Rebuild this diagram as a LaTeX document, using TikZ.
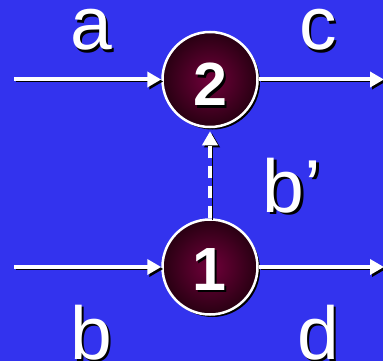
\documentclass[tikz,border=0pt]{standalone}
\usepackage{fontspec}
\setmainfont{Liberation Sans}
\usetikzlibrary{arrows.meta}
\definecolor{bgblue}{RGB}{51,51,238}
\definecolor{nodein}{RGB}{112,0,58}
\definecolor{nodeout}{RGB}{40,0,18}
\newcommand\shtxt[1]{\leavevmode\rlap{\kern2.5pt\raisebox{-2.5pt}{\color{black}#1}}#1}
\tikzset{
  statenode/.style={circle, minimum size=95pt, inner sep=0pt, draw=white, line width=2.5pt,
    inner color=nodein, outer color=nodeout, text=white,
    font=\fontsize{61}{61}\selectfont\bfseries,
    preaction={fill=black, transform canvas={shift={(2.5pt,-2.5pt)}}}},
  flow/.style={draw=white, line width=4pt, -{Triangle[length=14pt,width=15pt]},
    preaction={draw=black, transform canvas={shift={(2pt,-2pt)}}}},
  dflow/.style={flow, dash pattern=on 12pt off 8pt},
  lbl/.style={text=white, inner sep=0pt, anchor=base, font=\fontsize{75}{75}\selectfont}
}
\begin{document}
\begin{tikzpicture}[x=1pt,y=-1pt]
\fill[bgblue] (0,0) rectangle (383,361);
\useasboundingbox (0,0) rectangle (383,361);
\clip (0,0) rectangle (383,361);
\coordinate (ina) at (14,79.5);
\coordinate (outc) at (384,79.5);
\coordinate (inb) at (14,267);
\coordinate (outd) at (384,267);
\node[statenode] (n2) at (210,79.5) {};
\node[statenode] (n1) at (210,267) {};
\node[text=white, inner sep=0pt, anchor=base, font=\fontsize{61}{61}\selectfont\bfseries] (t2) at (210,106) {\shtxt{2}};
\node[text=white, inner sep=0pt, anchor=base, font=\fontsize{61}{61}\selectfont\bfseries] (t1) at (209,290) {\shtxt{1}};
\draw[flow] (ina) -- (n2);
\draw[flow] (n2) -- (outc);
\draw[flow] (inb) -- (n1);
\draw[flow] (n1) -- (outd);
\draw[dflow, shorten >=3pt] (n1) -- (n2);
\node[lbl] (la) at (91,50) {\shtxt{a}};
\node[lbl] (lc) at (318,50) {\shtxt{c}};
\node[lbl] (lbp) at (292,212) {\shtxt{b’}};
\node[lbl] (lb) at (91,359) {\shtxt{b}};
\node[lbl] (ld) at (318,359) {\shtxt{d}};
\end{tikzpicture}
\end{document}
